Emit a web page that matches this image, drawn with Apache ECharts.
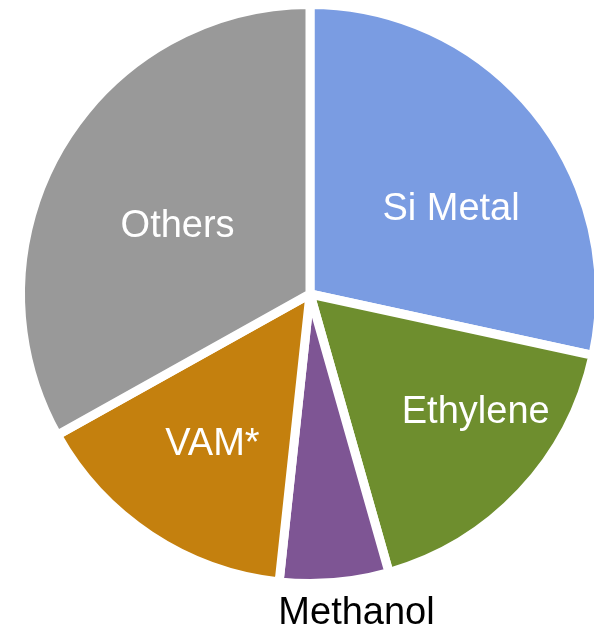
<!DOCTYPE html>
<html>
<head>
<meta charset="utf-8">
<script src="https://cdn.jsdelivr.net/npm/echarts@6/dist/echarts.min.js"></script>
<style>
html,body{margin:0;padding:0;background:#fff;}
#chart{width:594px;height:630px;}
</style>
</head>
<body>
<div id="chart"></div>
<script>
// Data
var categories = ['Si Metal', 'Ethylene', 'Methanol', 'VAM*', 'Others'];
var shares = [28.4, 17.2, 6.1, 15.2, 33.1];

// Styles
var colors = ['#7A9CE2', '#6E8E2E', '#7E5594', '#C4800E', '#999999'];
var labelColors = ['#ffffff', '#ffffff', '#000000', '#ffffff', '#ffffff'];
var labelShift = [[26, 8], [58, 17], [34, 172], [-16, 27], [-5, 7]];

var chart = echarts.init(document.getElementById('chart'), null, {renderer: 'canvas'});
var data = categories.map(function (c, i) {
  return {
    name: c,
    value: shares[i],
    itemStyle: {color: colors[i]},
    label: {color: labelColors[i]}
  };
});
chart.setOption({
  animation: false,
  series: [{
    type: 'pie',
    center: [310, 294],
    radius: [0, 289.5],
    startAngle: 90,
    clockwise: true,
    avoidLabelOverlap: false,
    silent: true,
    itemStyle: {borderColor: '#ffffff', borderWidth: 9},
    label: {
      show: true,
      position: 'inside',
      formatter: '{b}',
      fontFamily: 'Liberation Sans, Arial, sans-serif',
      fontSize: 38,
      fontWeight: 'normal'
    },
    labelLine: {show: false},
    labelLayout: function (params) {
      var s = labelShift[params.dataIndex];
      return {dx: s[0], dy: s[1]};
    },
    data: data
  }]
});
</script>
</body>
</html>
